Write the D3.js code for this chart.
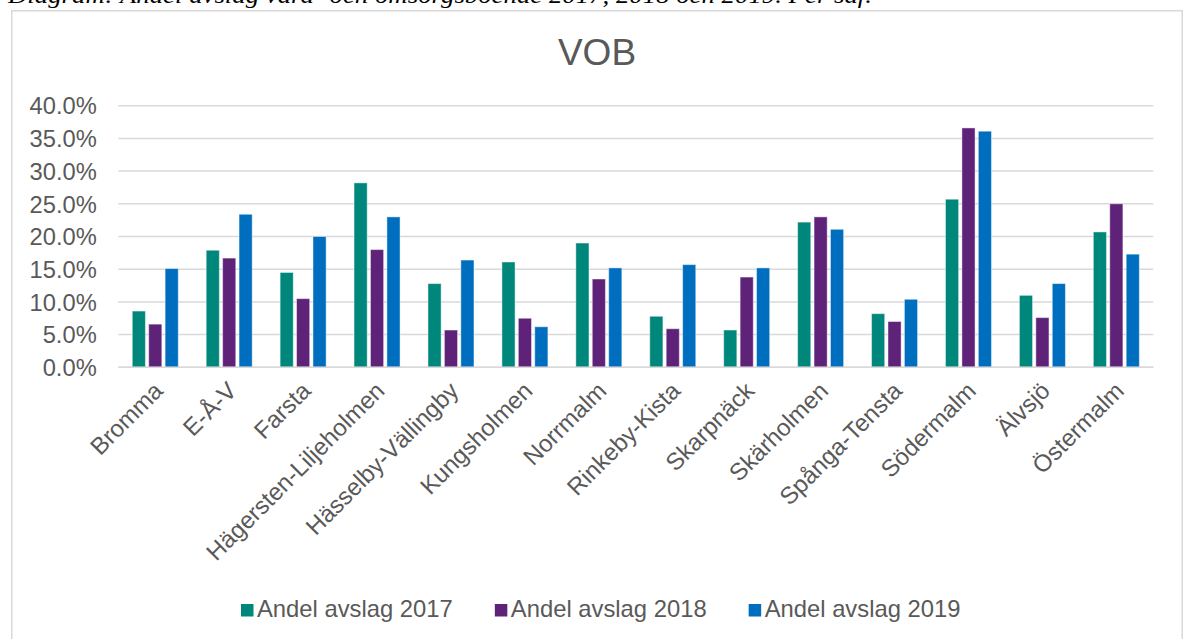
<!DOCTYPE html>
<html>
<head>
<meta charset="utf-8">
<script src="https://cdn.jsdelivr.net/npm/d3@7"></script>
<style>
  html, body { margin: 0; padding: 0; background: #fff; }
  svg { display: block; }
</style>
</head>
<body>
<svg id="chart" width="1187" height="639"></svg>
<script>
const categories = ["Bromma", "E-Å-V", "Farsta", "Hägersten-Liljeholmen", "Hässelby-Vällingby", "Kungsholmen", "Norrmalm", "Rinkeby-Kista", "Skarpnäck", "Skärholmen", "Spånga-Tensta", "Södermalm", "Älvsjö", "Östermalm"];
const seriesNames = ["Andel avslag 2017", "Andel avslag 2018", "Andel avslag 2019"];
const values2017 = [0.086, 0.179, 0.145, 0.282, 0.128, 0.161, 0.190, 0.078, 0.057, 0.222, 0.082, 0.257, 0.110, 0.207];
const values2018 = [0.066, 0.167, 0.105, 0.180, 0.057, 0.075, 0.135, 0.059, 0.138, 0.230, 0.070, 0.366, 0.076, 0.250];
const values2019 = [0.151, 0.234, 0.200, 0.230, 0.164, 0.062, 0.152, 0.157, 0.152, 0.211, 0.104, 0.361, 0.128, 0.173];
const yTicks = [0, 0.05, 0.10, 0.15, 0.20, 0.25, 0.30, 0.35, 0.40];
const colors = ["#00877B", "#5E2379", "#006EBF"];
const title = "VOB";
const caption = "Diagram: Andel avslag vård- och omsorgsboende 2017, 2018 och 2019. Per sdf.";

const seriesValues = [values2017, values2018, values2019];
const svg = d3.select("#chart");
const textColor = "#595959";
const gridColor = "#d9d9d9";
const font = "Liberation Sans, Arial, sans-serif";

// caption (clipped at top, as in the reference)
svg.append("text")
  .attr("x", 8).attr("y", 3)
  .attr("font-family", "Liberation Serif, Times New Roman, serif")
  .attr("font-style", "italic")
  .attr("font-size", 24)
  .attr("textLength", 864)
  .attr("lengthAdjust", "spacingAndGlyphs")
  .attr("fill", "#000")
  .text(caption);

// chart frame
svg.append("rect")
  .attr("x", 11.75).attr("y", 10.75)
  .attr("width", 1170.5).attr("height", 650)
  .attr("fill", "#fff")
  .attr("stroke", gridColor).attr("stroke-width", 1.5);

// title
svg.append("text")
  .attr("x", 597).attr("y", 65)
  .attr("text-anchor", "middle")
  .attr("font-family", font).attr("font-size", 37)
  .attr("fill", textColor)
  .text(title);

const x0 = d3.scaleBand().domain(categories).range([118.3, 1153.3]).padding(0);
const groupW = 46;
const x1 = d3.scaleBand().domain(seriesNames).range([0, groupW]).paddingInner(0.2).paddingOuter(0);
const y = d3.scaleLinear().domain([0, 0.4]).range([367.3, 105.7]);

// y axis labels
const yAxis = d3.axisLeft(y).tickValues(yTicks).tickFormat(d3.format(".1%")).tickSize(0).tickPadding(0);
const yG = svg.append("g").attr("transform", "translate(96.7,0)").call(yAxis);
yG.select(".domain").remove();
yG.selectAll("text").attr("font-family", font).attr("font-size", 23.7).attr("fill", textColor).attr("dy", "0.35em");

// gridlines
svg.append("g").selectAll("line").data(yTicks).join("line")
  .attr("x1", 118.3).attr("x2", 1153.3)
  .attr("y1", d => y(d)).attr("y2", d => y(d))
  .attr("stroke", gridColor).attr("stroke-width", 1.5);

// bars
const groups = svg.append("g").selectAll("g").data(categories).join("g")
  .attr("transform", d => `translate(${x0(d) + (x0.bandwidth() - groupW) / 2},0)`);
groups.selectAll("rect").data((d, i) => seriesNames.map((s, j) => ({ s, j, v: seriesValues[j][i] })))
  .join("rect")
  .attr("x", d => x1(d.s))
  .attr("width", x1.bandwidth())
  .attr("y", d => y(d.v))
  .attr("height", d => y(0) - y(d.v))
  .attr("fill", d => colors[d.j])
  .attr("stroke", "rgba(255,255,255,0.45)")
  .attr("stroke-width", 1);

// x axis baseline
svg.append("line")
  .attr("x1", 118.3).attr("x2", 1153.3)
  .attr("y1", y(0)).attr("y2", y(0))
  .attr("stroke", gridColor).attr("stroke-width", 1.5);

// x labels
const xAxis = d3.axisBottom(x0).tickSize(0).tickPadding(0);
const xG = svg.append("g").attr("transform", `translate(0,${y(0)})`).call(xAxis);
xG.select(".domain").remove();
xG.selectAll(".tick text")
  .attr("font-family", font).attr("font-size", 24).attr("fill", textColor)
  .attr("text-anchor", "end")
  .attr("dy", 0).attr("y", 0)
  .attr("transform", "translate(9,25) rotate(-45)");

// legend
const legend = svg.append("g");
let lx = 241;
seriesNames.forEach((s, j) => {
  legend.append("rect").attr("x", lx).attr("y", 604).attr("width", 12.5).attr("height", 12.5).attr("fill", colors[j]);
  const t = legend.append("text").attr("x", lx + 16).attr("y", 617.3)
    .attr("font-family", font).attr("font-size", 23.8).attr("fill", textColor).text(s);
  lx = lx + 16 + t.node().getComputedTextLength() + 42;
});
</script>
</body>
</html>
